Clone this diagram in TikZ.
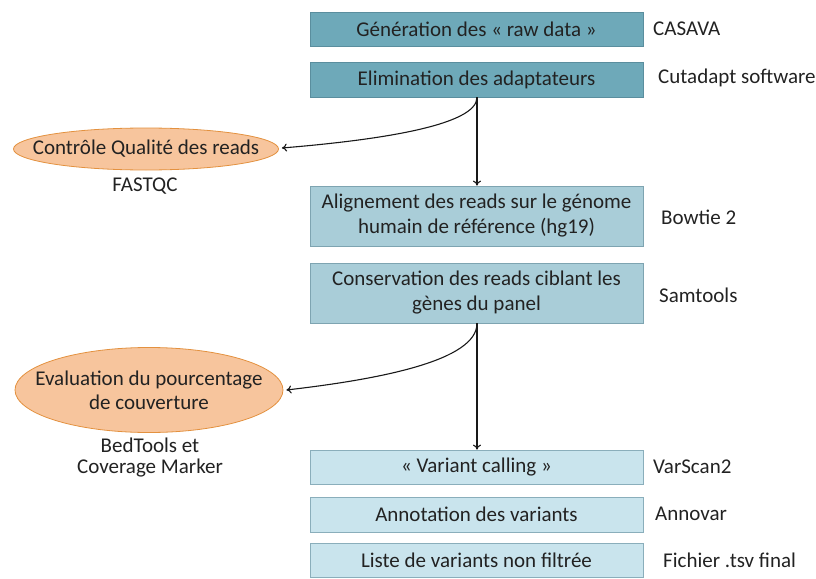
\documentclass[tikz,border=0pt]{standalone}
\usepackage{fontspec}
\setmainfont{Carlito}
\usetikzlibrary{shapes.geometric,arrows.meta}
\definecolor{bdark}{HTML}{6EA9B9}
\definecolor{bdarkl}{HTML}{5A8E9E}
\definecolor{bmid}{HTML}{A9CDD8}
\definecolor{bmidl}{HTML}{7EA4B1}
\definecolor{blight}{HTML}{C9E4ED}
\definecolor{blightl}{HTML}{8AAEBB}
\definecolor{ellfill}{HTML}{F7C59D}
\definecolor{elldraw}{HTML}{E3913F}
\definecolor{txt}{HTML}{222222}
\tikzset{
  boxbase/.style={rectangle, minimum width=333pt, inner sep=2pt, align=center, text=txt, font=\fontsize{21}{25}\selectfont, line width=0.8pt},
  boxdark/.style={boxbase, fill=bdark, draw=bdarkl},
  boxmid/.style={boxbase, fill=bmid, draw=bmidl},
  boxlight/.style={boxbase, fill=blight, draw=blightl},
  ell/.style={ellipse, fill=ellfill, draw=elldraw, line width=0.8pt, inner sep=0pt},
  elltext/.style={align=center, text=txt, inner sep=0pt, font=\fontsize{21}{24}\selectfont},
  side/.style={anchor=west, text=txt, font=\fontsize{21}{25}\selectfont, inner sep=0pt},
  under/.style={text=txt, align=center, font=\fontsize{21}{21}\selectfont, inner sep=0pt},
  arr/.style={-{To[length=5pt,width=8pt]}, line width=1.1pt, draw=black!90}
}
\begin{document}
\begin{tikzpicture}[x=1pt,y=-1pt]
\useasboundingbox (0,0) rectangle (816,578);
\node[boxdark, minimum height=34pt] (b1) at (476.5,29) {Génération des « raw data »};
\node[boxdark, minimum height=35pt] (b2) at (476.5,79.5) {Elimination des adaptateurs};
\node[boxmid, minimum height=60pt] (b3) at (476.5,216) {Alignement des reads sur le génome\\humain de référence (hg19)};
\node[boxmid, minimum height=60pt] (b4) at (476.5,293) {Conservation des reads ciblant les\\gènes du panel};
\node[boxlight, minimum height=34pt] (b5) at (476.5,467) {« Variant calling »};
\node[boxlight, minimum height=35pt] (b6) at (476.5,514.5) {Annotation des variants};
\node[boxlight, minimum height=34pt] (b7) at (476.5,560) {Liste de variants non filtrée};

\node[side] (s1) at (653,29) {CASAVA};
\node[side] (s2) at (658,78) {Cutadapt software};
\node[side] (s3) at (661,217) {Bowtie 2};
\node[side] (s4) at (659,295) {Samtools};
\node[side] (s5) at (653,467) {VarScan2};
\node[side] (s6) at (655,514) {Annovar};
\node[side] (s7) at (663,560) {Fichier .tsv final};

\node[ell, minimum width=265pt, minimum height=42pt] (e1) at (146,149) {};
\node[elltext] (t1) at (e1.center) {Contrôle Qualité des reads};
\node[under] (u1) at (145,186) {FASTQC};
\node[ell, minimum width=268pt, minimum height=85pt] (e2) at (149,390) {};
\node[elltext] (t2) at (e2.center) {Evaluation du pourcentage\\de couverture};
\node[under] (u2) at (150,458) {BedTools et\\Coverage Marker};

\coordinate (c2) at ([xshift=0.5pt]b2.south);
\coordinate (c4) at ([xshift=0.5pt]b4.south);
\coordinate (f1) at ([xshift=3pt,yshift=1pt]e1.east);
\coordinate (f2) at ([xshift=3pt]e2.east);
\draw[arr] (c2) -- (c2 |- b3.north);
\draw[arr] (c2) .. controls +(0,28) and +(97,-8) .. (f1);
\draw[arr] (c4) -- (c4 |- b5.north);
\draw[arr] (c4) .. controls +(0,37) and +(95,-11) .. (f2);
\end{tikzpicture}
\end{document}
